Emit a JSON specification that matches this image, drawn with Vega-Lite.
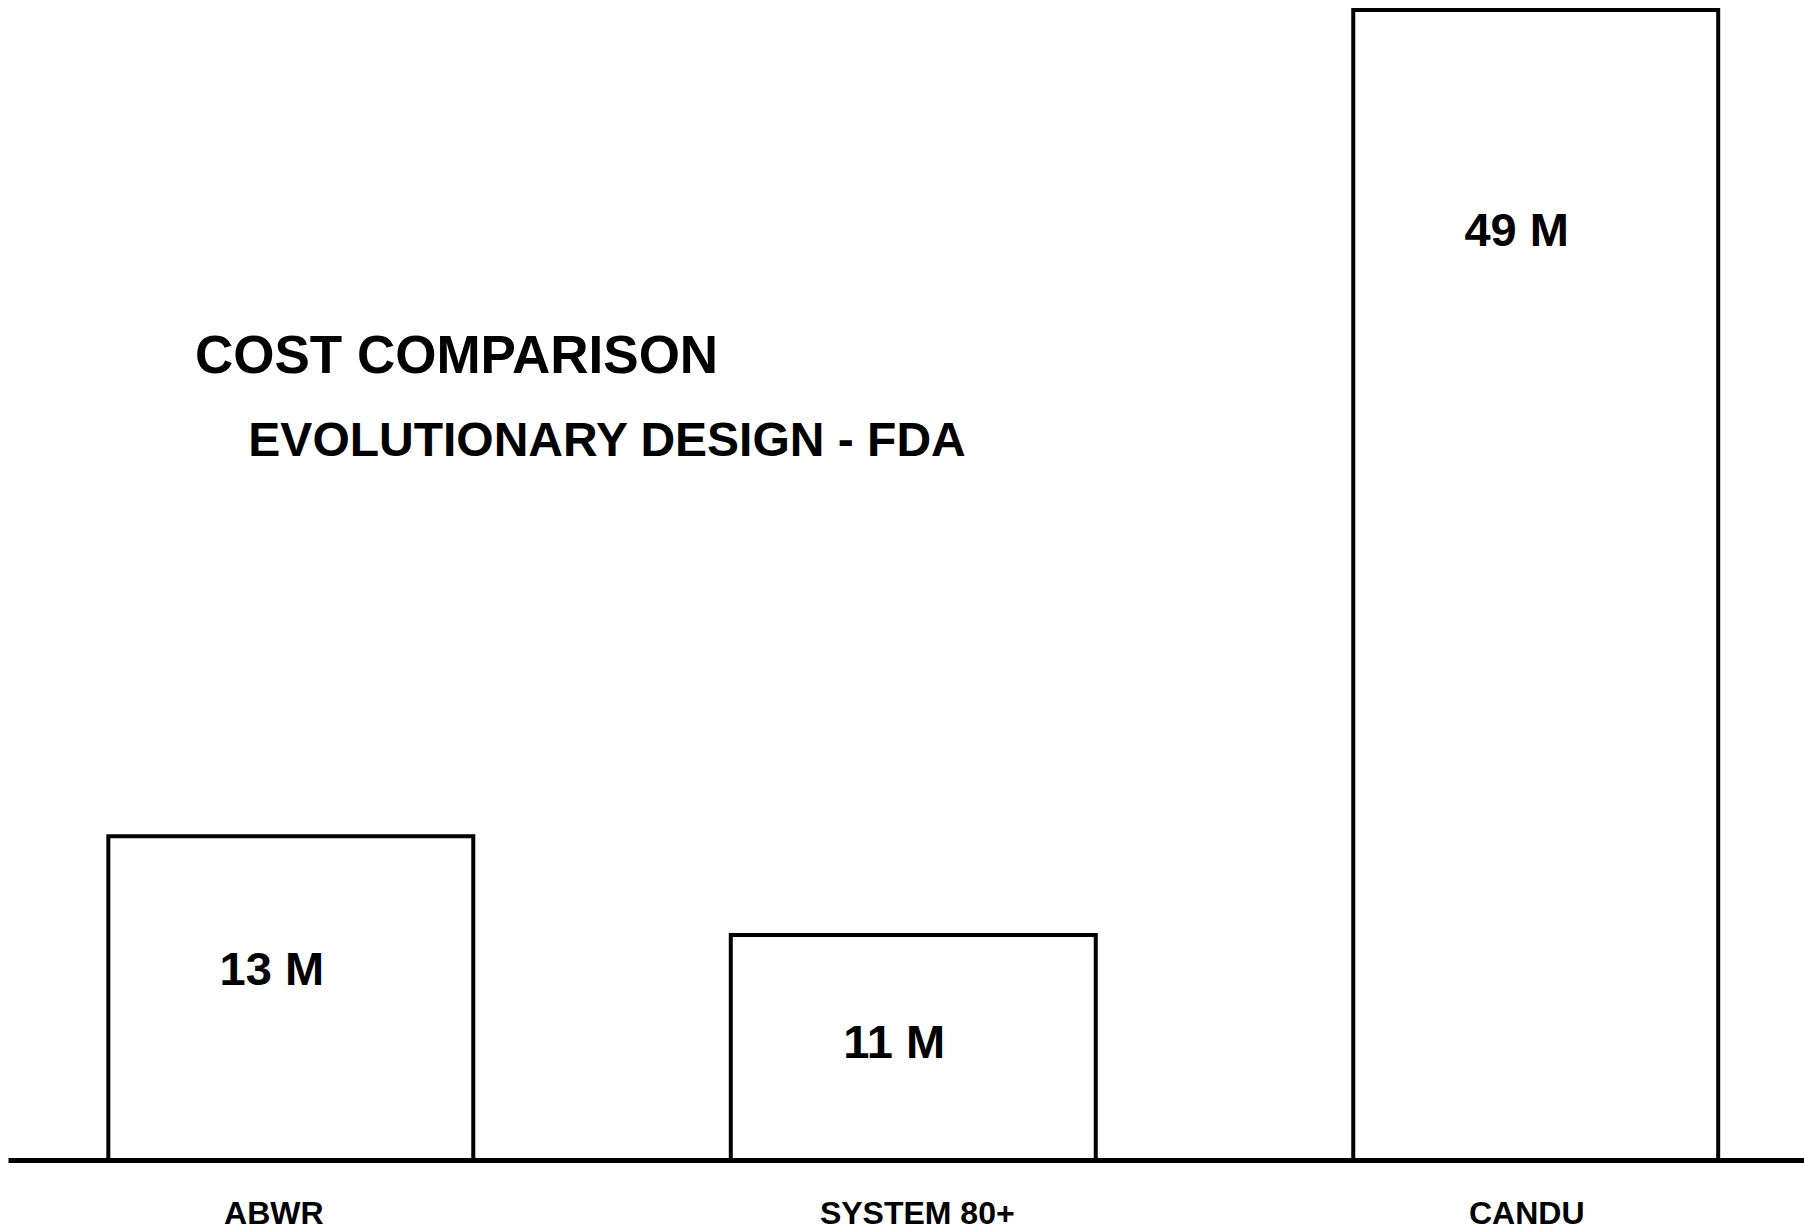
{
  "$schema": "https://vega.github.io/schema/vega-lite/v6.json",
  "width": 1796,
  "height": 1160,
  "autosize": {"type": "none"},
  "padding": {"left": 8, "top": 0, "right": 0, "bottom": 71},
  "background": "white",
  "config": {"view": {"stroke": null}, "font": "Liberation Sans"},
  "title": {
    "text": "COST COMPARISON",
    "subtitle": "\u200b\u00a0\u00a0\u00a0\u00a0EVOLUTIONARY DESIGN - FDA",
    "anchor": "start",
    "frame": "group",
    "orient": "top",
    "font": "Liberation Sans",
    "fontSize": 53,
    "fontWeight": "bold",
    "color": "black",
    "subtitleFont": "Liberation Sans",
    "subtitleFontSize": 48,
    "subtitleFontWeight": "bold",
    "subtitleColor": "black",
    "subtitlePadding": 34,
    "dx": 187,
    "offset": -466
  },
  "data": {
    "values": [
      {"design": "ABWR", "bar_height": 13.8, "label": "13 M", "label_at": 7.46},
      {"design": "SYSTEM 80+", "bar_height": 9.59, "label": "11 M", "label_at": 4.35},
      {"design": "CANDU", "bar_height": 49, "label": "49 M", "label_at": 38.94}
    ]
  },
  "encoding": {
    "x": {
      "field": "design",
      "type": "nominal",
      "sort": null,
      "scale": {"paddingInner": 0.4137, "paddingOuter": 0.1495, "align": 0.539},
      "axis": {
        "title": null,
        "domain": true,
        "domainColor": "black",
        "domainWidth": 5,
        "ticks": false,
        "tickSize": 0,
        "grid": false,
        "labelAngle": 0,
        "labelLimit": 0,
        "labelFont": "Liberation Sans",
        "labelFontSize": 32,
        "labelFontWeight": "bold",
        "labelColor": "black",
        "labelPadding": 38,
        "labelOffset": {"condition": [{"test": "datum.value === 'ABWR'", "value": -17}, {"test": "datum.value === 'CANDU'", "value": -9}], "value": 4}
      }
    }
  },
  "layer": [
    {
      "mark": {"type": "bar", "fill": "white", "stroke": "black", "strokeWidth": 4},
      "encoding": {
        "y": {
          "field": "bar_height",
          "type": "quantitative",
          "scale": {"domain": [0, 49.43], "nice": false, "zero": true},
          "axis": null
        }
      }
    },
    {
      "mark": {"type": "text", "font": "Liberation Sans", "fontSize": 47, "fontWeight": "bold", "baseline": "alphabetic", "dx": -19, "color": "black"},
      "encoding": {
        "y": {"field": "label_at", "type": "quantitative", "axis": null},
        "text": {"field": "label"}
      }
    }
  ]
}
